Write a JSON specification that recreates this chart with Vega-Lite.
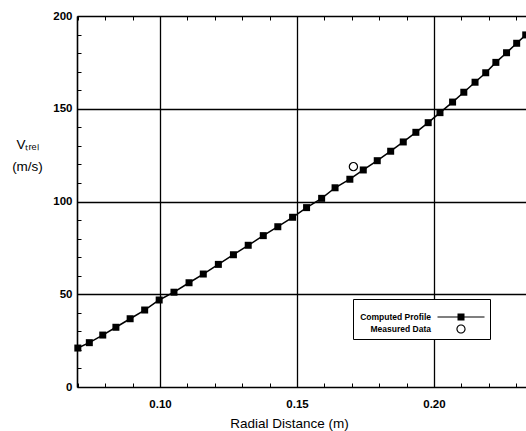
{
  "$schema": "https://vega.github.io/schema/vega-lite/v6.json",
  "width": 449,
  "height": 371,
  "autosize": {"type": "none"},
  "padding": {"left": 77, "top": 16, "right": 0, "bottom": 44},
  "background": "white",
  "config": {"view": {"stroke": null}, "font": "Liberation Sans"},
  "data": {
    "values": [
      {"x": 0.0700, "v": 21.0, "series": "Computed Profile"},
      {"x": 0.0742, "v": 23.9, "series": "Computed Profile"},
      {"x": 0.0791, "v": 28.0, "series": "Computed Profile"},
      {"x": 0.0839, "v": 32.2, "series": "Computed Profile"},
      {"x": 0.0891, "v": 36.8, "series": "Computed Profile"},
      {"x": 0.0944, "v": 41.5, "series": "Computed Profile"},
      {"x": 0.0997, "v": 46.9, "series": "Computed Profile"},
      {"x": 0.1051, "v": 51.1, "series": "Computed Profile"},
      {"x": 0.1106, "v": 56.2, "series": "Computed Profile"},
      {"x": 0.1158, "v": 60.9, "series": "Computed Profile"},
      {"x": 0.1213, "v": 66.1, "series": "Computed Profile"},
      {"x": 0.1268, "v": 71.3, "series": "Computed Profile"},
      {"x": 0.1322, "v": 76.4, "series": "Computed Profile"},
      {"x": 0.1377, "v": 81.6, "series": "Computed Profile"},
      {"x": 0.1430, "v": 86.4, "series": "Computed Profile"},
      {"x": 0.1484, "v": 91.5, "series": "Computed Profile"},
      {"x": 0.1535, "v": 96.7, "series": "Computed Profile"},
      {"x": 0.1590, "v": 101.7, "series": "Computed Profile"},
      {"x": 0.1639, "v": 107.4, "series": "Computed Profile"},
      {"x": 0.1693, "v": 112.0, "series": "Computed Profile"},
      {"x": 0.1742, "v": 117.0, "series": "Computed Profile"},
      {"x": 0.1793, "v": 122.0, "series": "Computed Profile"},
      {"x": 0.1842, "v": 127.1, "series": "Computed Profile"},
      {"x": 0.1888, "v": 132.1, "series": "Computed Profile"},
      {"x": 0.1934, "v": 137.3, "series": "Computed Profile"},
      {"x": 0.1979, "v": 142.5, "series": "Computed Profile"},
      {"x": 0.2022, "v": 147.9, "series": "Computed Profile"},
      {"x": 0.2068, "v": 153.6, "series": "Computed Profile"},
      {"x": 0.2109, "v": 158.9, "series": "Computed Profile"},
      {"x": 0.2150, "v": 164.3, "series": "Computed Profile"},
      {"x": 0.2189, "v": 169.4, "series": "Computed Profile"},
      {"x": 0.2226, "v": 175.0, "series": "Computed Profile"},
      {"x": 0.2265, "v": 180.2, "series": "Computed Profile"},
      {"x": 0.2302, "v": 185.3, "series": "Computed Profile"},
      {"x": 0.2335, "v": 189.8, "series": "Computed Profile"},
      {"x": 0.1706, "v": 118.8, "series": "Measured Data"}
    ]
  },
  "encoding": {
    "y": {
      "field": "v", "type": "quantitative",
      "scale": {"domain": [0, 200], "nice": false},
      "axis": {
        "values": [0, 10, 20, 30, 40, 50, 60, 70, 80, 90, 100, 110, 120, 130, 140, 150, 160, 170, 180, 190, 200],
        "labelExpr": "(datum.value == 0 || datum.value == 50 || datum.value == 100 || datum.value == 150 || datum.value == 200) ? datum.label : ''",
        "grid": true,
        "gridColor": {"condition": {"test": "datum.value == 50 || datum.value == 100 || datum.value == 150", "value": "black"}, "value": "transparent"},
        "gridWidth": 1.3,
        "tickSize": -4, "tickColor": "black", "tickWidth": 1,
        "domainColor": "black", "domainWidth": 1.6,
        "labelPadding": 9, "labelFont": "Liberation Sans", "labelFontSize": 11.5, "labelFontWeight": "bold", "labelColor": "black",
        "labelFlush": false, "labelOverlap": false,
        "title": ["Vₜᵣₑₗ", "(m/s)"], "titleFont": "Liberation Sans", "titleFontSize": 13.5, "titleFontWeight": "normal", "titleColor": "black",
        "titleAngle": 0, "titleX": -50, "titleY": 121, "titleAlign": "center", "titleBaseline": "top", "titleLineHeight": 22, "titleAnchor": "start"
      }
    }
  },
  "resolve": {"axis": {"x": "independent"}},
  "layer": [
    {
      "transform": [{"filter": "datum.series === 'Computed Profile'"}],
      "mark": {"type": "line", "color": "black", "strokeWidth": 1.5},
      "encoding": {
        "x": {
          "field": "x", "type": "quantitative",
          "scale": {"domain": [0.0697, 0.2336], "nice": false, "zero": false},
          "axis": {
            "orient": "bottom",
            "values": [0.07, 0.08, 0.09, 0.1, 0.11, 0.12, 0.13, 0.14, 0.15, 0.16, 0.17, 0.18, 0.19, 0.2, 0.21, 0.22, 0.23],
            "labelExpr": "(datum.value == 0.1 || datum.value == 0.15 || datum.value == 0.2) ? format(datum.value, '.2f') : ''",
            "grid": true,
            "gridColor": {"condition": {"test": "datum.value == 0.1 || datum.value == 0.15 || datum.value == 0.2", "value": "black"}, "value": "transparent"},
            "gridWidth": 1.3,
            "tickSize": -4, "tickColor": "black", "tickWidth": 1,
            "domainColor": "black", "domainWidth": 1.6,
            "labelPadding": 15, "labelFont": "Liberation Sans", "labelFontSize": 11.5, "labelFontWeight": "bold", "labelColor": "black",
            "labelFlush": false, "labelOverlap": false,
            "title": "Radial Distance (m)", "titleFont": "Liberation Sans", "titleFontSize": 13.5, "titleFontWeight": "normal", "titleColor": "black",
            "titleX": 212, "titleY": 40, "titleAlign": "center", "titleBaseline": "alphabetic", "titleAnchor": "start"
          }
        }
      }
    },
    {
      "transform": [{"filter": "datum.series === 'Computed Profile'"}],
      "mark": {"type": "point", "shape": "square", "filled": true, "color": "black", "size": 49, "opacity": 1},
      "encoding": {
        "x": {
          "field": "x", "type": "quantitative",
          "axis": {
            "orient": "top",
            "values": [0.07, 0.08, 0.09, 0.1, 0.11, 0.12, 0.13, 0.14, 0.15, 0.16, 0.17, 0.18, 0.19, 0.2, 0.21, 0.22, 0.23],
            "labels": false, "grid": false, "title": null,
            "tickSize": -4, "tickColor": "black", "tickWidth": 1,
            "domainColor": "black", "domainWidth": 1.6
          }
        }
      }
    },
    {
      "transform": [{"filter": "datum.series === 'Measured Data'"}],
      "mark": {"type": "point", "shape": "circle", "filled": false, "color": "black", "size": 68, "strokeWidth": 1.2, "opacity": 1},
      "encoding": {
        "x": {"field": "x", "type": "quantitative", "axis": null}
      }
    },
    {
      "mark": {"type": "point", "filled": true, "color": "black", "opacity": 0, "size": 100},
      "encoding": {
        "x": {"field": "x", "type": "quantitative", "axis": null},
        "shape": {
          "field": "series", "type": "nominal",
          "scale": {"domain": ["Computed Profile", "Measured Data"], "range": ["M-4.7,-0.1H4.7V0.1H-4.7ZM-0.7,-0.7H0.7V0.7H-0.7Z", "M0.92,0A0.92,0.92,0,1,1,-0.92,0A0.92,0.92,0,1,1,0.92,0ZM0.7,0A0.7,0.7,0,1,0,-0.7,0A0.7,0.7,0,1,0,0.7,0Z"]},
          "legend": {
            "orient": "none", "legendX": 276, "legendY": 283,
            "title": " ", "titleFontSize": 3, "titlePadding": 5,
            "strokeColor": "black", "fillColor": "white", "padding": 5,
            "labelAlign": "right", "labelOffset": -35, "symbolOffset": 98,
            "labelFont": "Liberation Sans", "labelFontSize": 8.5, "labelFontWeight": "bold", "labelColor": "black",
            "rowPadding": 2,
            "symbolSize": 100, "symbolOpacity": 1, "symbolFillColor": "black", "symbolStrokeWidth": 0
          }
        }
      }
    }
  ]
}
